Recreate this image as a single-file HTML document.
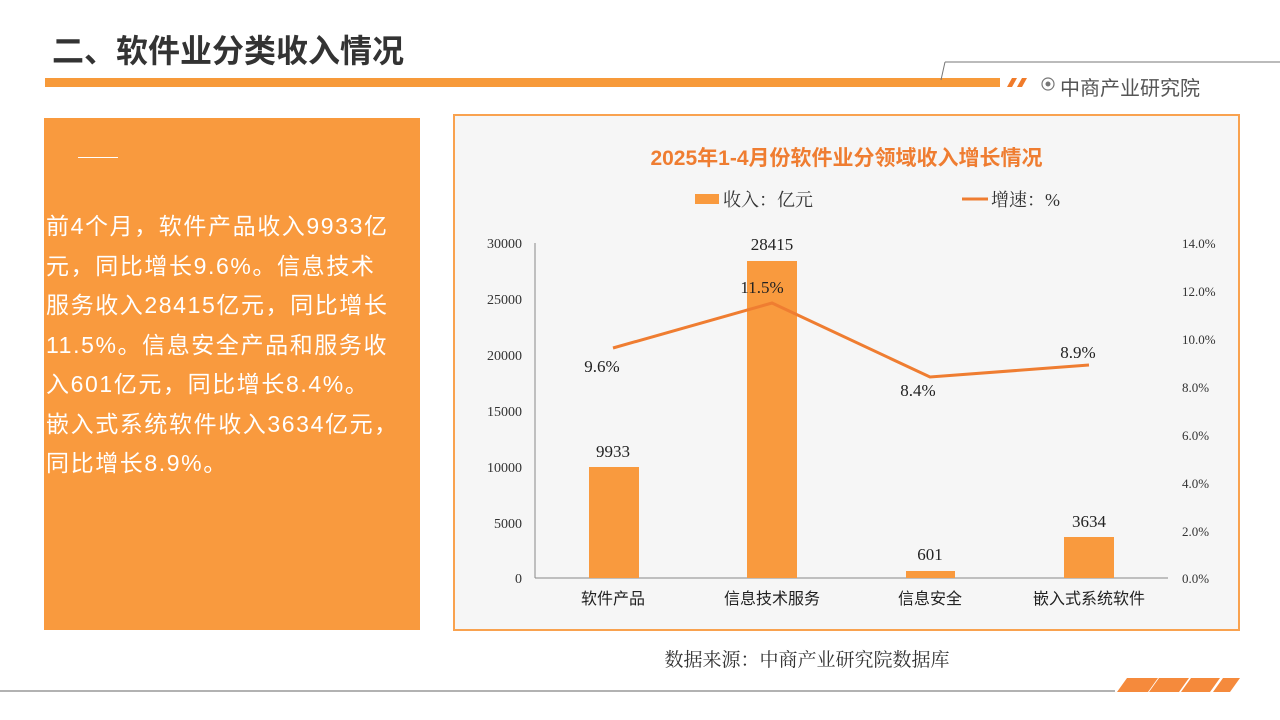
<!DOCTYPE html>
<html><head><meta charset="utf-8"><style>
body{margin:0;width:1280px;height:720px;background:#fff;position:relative;overflow:hidden;font-family:"Liberation Sans","Noto Sans CJK SC",sans-serif}
.a{position:absolute}
</style></head><body>
<div class="a" style="left:52px;top:26px;font-size:32px;font-weight:bold;color:#333;letter-spacing:0px">二、软件业分类收入情况</div>
<div class="a" style="left:45px;top:78px;width:955px;height:9px;background:#f79a3a"></div>
<svg class="a" style="left:0;top:0" width="1280" height="720">
<line x1="945" y1="62" x2="1280" y2="62" stroke="#777" stroke-width="1"/>
<line x1="945" y1="62" x2="941" y2="80" stroke="#777"/>
<polygon points="1007,87 1012,78 1017,78 1012,87" fill="#f07b2a"/>
<polygon points="1017,87 1022,78 1027,78 1022,87" fill="#f07b2a"/>
<circle cx="1048" cy="84" r="6" fill="none" stroke="#777" stroke-width="1.2"/><circle cx="1048" cy="84" r="2.5" fill="#777"/>
<line x1="0" y1="691" x2="1115" y2="691" stroke="#666"/>
<g fill="#f58a3c">
<polygon points="1117,692 1127,678 1158,678 1148,692"/>
<polygon points="1149,692 1159,678 1189,678 1179,692"/>
<polygon points="1181,692 1191,678 1220,678 1210,692"/>
<polygon points="1213,692 1223,678 1240,678 1230,692"/>
</g>
</svg>
<div class="a" style="left:1060px;top:72px;font-size:20px;color:#555">中商产业研究院</div>
<div class="a" style="left:44px;top:118px;width:376px;height:512px;background:#f99a3e"></div>
<div class="a" style="left:78px;top:157px;width:40px;height:1px;background:#fff"></div>
<div class="a" style="left:46px;top:207px;width:380px;font-size:23px;letter-spacing:1.6px;line-height:39.5px;color:#fff;white-space:nowrap">前4个月，软件产品收入9933亿<br>元，同比增长9.6%。信息技术<br>服务收入28415亿元，同比增长<br>11.5%。信息安全产品和服务收<br>入601亿元，同比增长8.4%。<br>嵌入式系统软件收入3634亿元，<br>同比增长8.9%。</div>
<div class="a" style="left:453px;top:114px;width:783px;height:513px;border:2px solid #f9a24f;background:#f6f6f6"></div>
<div class="a" style="left:453px;top:142px;width:787px;text-align:center;font-size:21px;font-weight:bold;color:#ef7d31">2025年1-4月份软件业分领域收入增长情况</div>
<svg class="a" style="left:0;top:0;font-family:'Liberation Serif','Noto Serif CJK SC',serif" width="1280" height="720">
<rect x="695" y="194" width="24" height="10" fill="#f99a3e"/>
<text x="723" y="206" font-size="18" fill="#333">收入：亿元</text>
<line x1="962" y1="199" x2="988" y2="199" stroke="#ef7d31" stroke-width="3"/>
<text x="991" y="206" font-size="18" fill="#333">增速：%</text>
<line x1="535" y1="243" x2="535" y2="578" stroke="#888"/>
<line x1="535" y1="578" x2="1168" y2="578" stroke="#888"/>
<g font-size="14" fill="#333" text-anchor="end">
<text x="522" y="248">30000</text><text x="522" y="304">25000</text><text x="522" y="360">20000</text><text x="522" y="416">15000</text><text x="522" y="472">10000</text><text x="522" y="528">5000</text><text x="522" y="583">0</text>
</g>
<g font-size="13" fill="#333">
<text x="1182" y="248">14.0%</text><text x="1182" y="296">12.0%</text><text x="1182" y="344">10.0%</text><text x="1182" y="392">8.0%</text><text x="1182" y="440">6.0%</text><text x="1182" y="488">4.0%</text><text x="1182" y="536">2.0%</text><text x="1182" y="583">0.0%</text>
</g>
<g fill="#f99a3e">
<rect x="589" y="467" width="50" height="111"/>
<rect x="747" y="261" width="50" height="317"/>
<rect x="906" y="571" width="49" height="7"/>
<rect x="1064" y="537" width="50" height="41"/>
</g>
<polyline points="613,348 772,303 930,377 1089,365" fill="none" stroke="#ef7d31" stroke-width="3"/>
<g font-size="17" fill="#222" text-anchor="middle">
<text x="613" y="457">9933</text><text x="772" y="250">28415</text><text x="930" y="560">601</text><text x="1089" y="527">3634</text>
<text x="602" y="372">9.6%</text><text x="762" y="293">11.5%</text><text x="918" y="396">8.4%</text><text x="1078" y="358">8.9%</text>
</g>
<g font-size="16" fill="#222" text-anchor="middle" font-family="'Liberation Sans','Noto Sans CJK SC',sans-serif">
<text x="613" y="604">软件产品</text><text x="772" y="604">信息技术服务</text><text x="930" y="604">信息安全</text><text x="1089" y="604">嵌入式系统软件</text>
</g>
<text x="807" y="666" font-size="19" fill="#333" text-anchor="middle">数据来源：中商产业研究院数据库</text>
</svg>
</body></html>
